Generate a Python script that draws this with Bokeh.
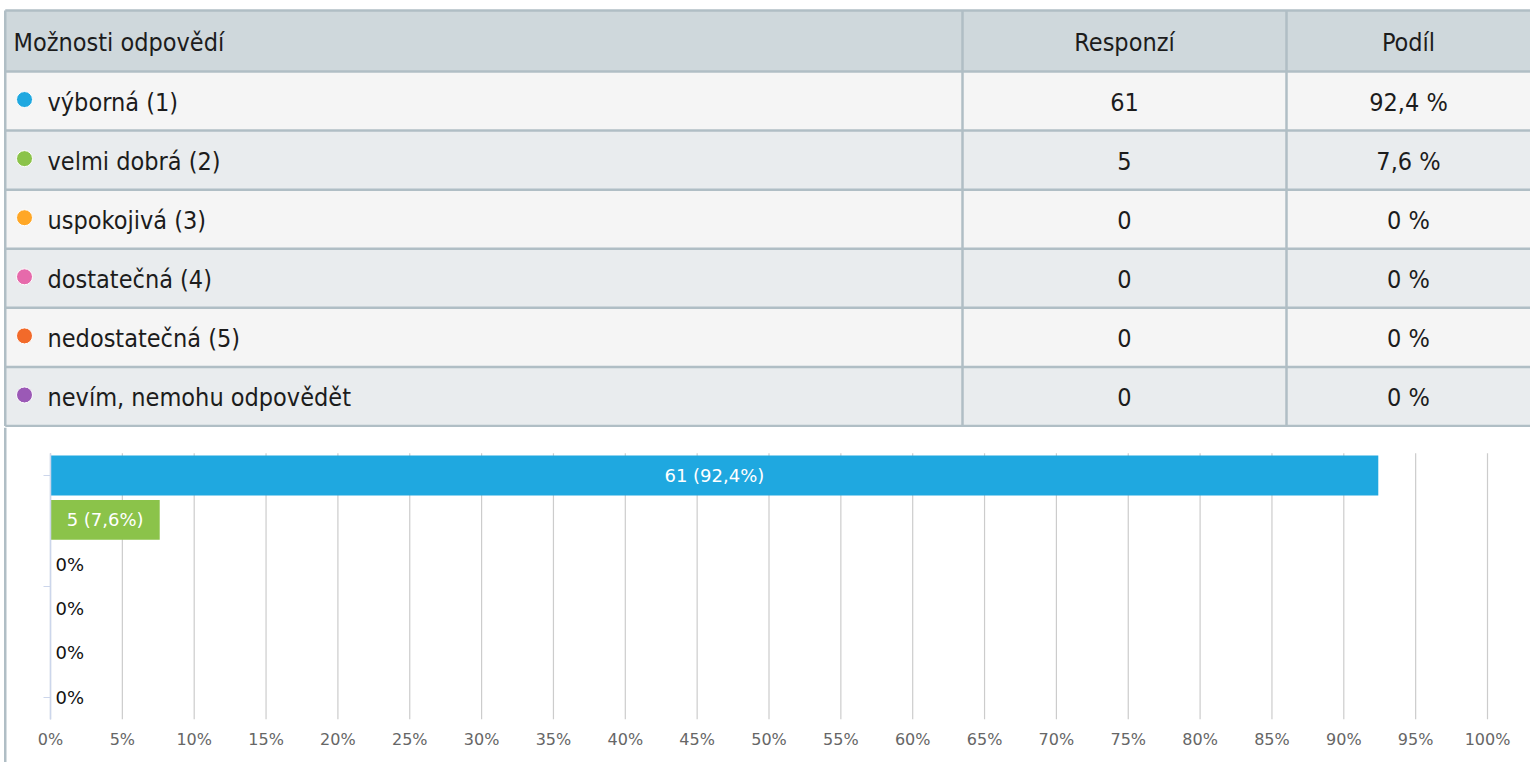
from bokeh.plotting import figure
from bokeh.layouts import column
from bokeh.models import Range1d, FixedTicker, PrintfTickFormatter
from bokeh.core.properties import value
from bokeh.embed import file_html
from bokeh.resources import INLINE

# ---------------- data ----------------
categories = ["výborná (1)", "velmi dobrá (2)", "uspokojivá (3)", "dostatečná (4)",
              "nedostatečná (5)", "nevím, nemohu odpovědět"]
counts = [61, 5, 0, 0, 0, 0]
shares = [92.4, 7.6, 0, 0, 0, 0]
colors = ["#1fa8e0", "#8bc34a", "#ffa726", "#e66aab", "#f26a2a", "#9b59b6"]
header = ["Možnosti odpovědí", "Responzí", "Podíl"]
x_ticks = list(range(0, 101, 5))


def fmt_share(s):
    if s == int(s):
        return f"{int(s)}"
    return f"{s:.1f}".replace(".", ",")


# ---------------- layout constants (pixels) ----------------
W = 1530
TABLE_H = 427
CHART_H = 335
X0 = 0
Y0 = 0

TABLE_FONT = value("DejaVu Sans Condensed, Roboto")
CHART_FONT = value("DejaVu Sans")

# ---------------- table figure ----------------
t = figure(width=W, height=TABLE_H, output_backend="svg", toolbar_location=None,
           x_range=Range1d(X0, X0 + W), y_range=Range1d(Y0 + TABLE_H, Y0),
           min_border=0, outline_line_color=None)
t.axis.visible = False
t.grid.visible = False

top_line = 10
head_bottom = 71
row_h = (425.5 - head_bottom) / len(categories)
left_x = 4.75
right_x = X0 + W
col1 = 962
col2 = 1286
border_col = "#b0bec5"

n = len(categories)
row_tops = [head_bottom + i * row_h for i in range(n)]
row_bots = [rt + row_h for rt in row_tops]
row_mid = [(a + b) / 2 for a, b in zip(row_tops, row_bots)]
row_bg = ["#f5f5f5" if i % 2 == 0 else "#e9ecee" for i in range(n)]

t.quad(left=left_x, right=right_x, top=top_line, bottom=head_bottom,
       fill_color="#cfd8dc", line_color=None)
t.quad(left=[left_x] * n, right=[right_x] * n, top=row_tops, bottom=row_bots,
       fill_color=row_bg, line_color=None)

hlines = [top_line, head_bottom] + row_bots
t.segment(x0=[left_x] * len(hlines), x1=[right_x] * len(hlines), y0=hlines, y1=hlines,
          line_color=border_col, line_width=2.5)
vx = [left_x, col1, col2]
t.segment(x0=vx, x1=vx, y0=[top_line] * 3, y1=[row_bots[-1]] * 3,
          line_color=border_col, line_width=2.5)

head_mid = (top_line + head_bottom) / 2 + 1
txt_col = "#1c1c1c"
fs = "25px"
t.text(x=[13], y=[head_mid], text=[header[0]], text_align="left", text_baseline="middle",
       text_font=TABLE_FONT, text_font_size=fs, text_color=txt_col)
t.text(x=[(col1 + col2) / 2, (col2 + W) / 2], y=[head_mid] * 2, text=header[1:],
       text_align="center", text_baseline="middle",
       text_font=TABLE_FONT, text_font_size=fs, text_color=txt_col)

ty = [m + 1 for m in row_mid]
t.scatter(x=[24] * n, y=[m - 1.5 for m in row_mid], size=16, fill_color=colors,
          line_color="white", line_width=1)
t.text(x=[47] * n, y=ty, text=categories, text_align="left", text_baseline="middle",
       text_font=TABLE_FONT, text_font_size=fs, text_color=txt_col)
t.text(x=[(col1 + col2) / 2] * n, y=ty, text=[str(c) for c in counts],
       text_align="center", text_baseline="middle",
       text_font=TABLE_FONT, text_font_size=fs, text_color=txt_col)
t.text(x=[(col2 + W) / 2] * n, y=ty, text=[fmt_share(s) + " %" for s in shares],
       text_align="center", text_baseline="middle",
       text_font=TABLE_FONT, text_font_size=fs, text_color=txt_col)

# ---------------- chart figure ----------------
chart_top = Y0 + TABLE_H          # screen y of chart figure top
zero_px = 50 - X0                 # 0 % position inside frame
px_per_pct = (1487 - 50) / 100.0
band_px = 266 / 6.0
cat0_px = 475 - chart_top

xr = Range1d(-zero_px / px_per_pct, (W - zero_px) / px_per_pct)
ytop = -cat0_px / band_px
yr = Range1d(ytop + CHART_H / band_px, ytop)

p = figure(width=W, height=CHART_H, output_backend="svg", toolbar_location=None,
           x_range=xr, y_range=yr, min_border=0, outline_line_color=None)
p.grid.visible = False

idx = list(range(n))

# left table border continuing down
bx = (left_x - 50) / px_per_pct
p.segment(x0=[bx], x1=[bx], y0=[yr.start], y1=[yr.end], line_color=border_col, line_width=2.5)

# grid lines
p.segment(x0=x_ticks, x1=x_ticks, y0=[-0.5] * len(x_ticks), y1=[n - 0.5] * len(x_ticks),
          line_color="#cccccc", line_width=1.2)

p.hbar(y=idx, left=0, right=shares, height=0.9, fill_color=colors, line_color=None)

nz = [i for i in idx if shares[i] > 0]
z = [i for i in idx if shares[i] == 0]
p.text(x=[shares[i] / 2 for i in nz], y=[i for i in nz],
       text=[f"{counts[i]} ({fmt_share(shares[i])}%)" for i in nz],
       text_align="center", text_baseline="middle", text_color="white",
       text_font=CHART_FONT, text_font_size="18px")
p.text(x=[0] * len(z), y=z, text=[f"{fmt_share(shares[i])}%" for i in z], x_offset=5,
       text_align="left", text_baseline="middle", text_color="#111111",
       text_font=CHART_FONT, text_font_size="18px")

# axes
xa = p.xaxis[0]
xa.fixed_location = n - 0.5
xa.ticker = FixedTicker(ticks=x_ticks)
xa.formatter = PrintfTickFormatter(format="%d%%")
xa.axis_line_color = None
xa.major_tick_line_color = None
xa.minor_tick_line_color = None
xa.major_label_standoff = 5
xa.major_label_text_font = "DejaVu Sans"
xa.major_label_text_font_size = "16px"
xa.major_label_text_color = "#666666"

ya = p.yaxis[0]
ya.fixed_location = 0
ya.ticker = FixedTicker(ticks=[0, 2.5, 5])
ya.bounds = (-0.5, n - 0.5)
ya.axis_line_color = "#ccd6eb"
ya.axis_line_width = 1.5
ya.major_tick_line_color = "#ccd6eb"
ya.major_tick_out = 7
ya.major_tick_in = 0
ya.minor_tick_line_color = None
ya.major_label_text_alpha = 0

layout = column(t, p, spacing=0)
open("out.html", "w").write(file_html(layout, INLINE))
